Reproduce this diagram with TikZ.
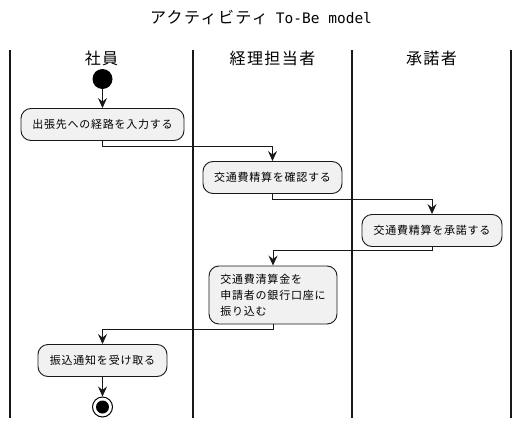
\documentclass[tikz,border=0pt]{standalone}
\usepackage{fontspec}
\setmainfont{Noto Sans CJK JP}
\newfontfamily\actfont[LetterSpace=7]{Noto Sans CJK JP}
\newfontfamily\headfont[LetterSpace=9]{Noto Sans CJK JP}
\newfontfamily\monofont{DejaVu Sans Mono}
\usepackage{tikz}
\usetikzlibrary{arrows.meta}
\definecolor{umlline}{HTML}{181818}
\definecolor{umlfill}{HTML}{F1F1F1}

\begin{document}
\begin{tikzpicture}[x=1pt,y=-1pt,
	act/.style={draw=umlline,fill=umlfill,line width=0.9pt,rounded corners=10pt,inner xsep=10pt,minimum height=32pt,font=\actfont\fontsize{11}{16}\selectfont},
	flow/.style={draw=umlline,line width=1pt,-{Stealth[length=10pt,width=9pt,inset=3.5pt]}},
	lane/.style={line width=1.5pt,umlline},
	lanehead/.style={font=\headfont\fontsize{16}{18}\selectfont}]
	\useasboundingbox (0,0) rectangle (522,428);
	\node (title) at (261,18) {{\headfont\fontsize{16}{18}\selectfont アクティビティ}\hspace{8pt}{\monofont\fontsize{14.5}{18}\selectfont To-Be model}};
	\foreach \x in {10,193,352,511}
		\draw[lane] (\x,50)--(\x,418);
	\node[lanehead] (staff) at (101.5,58) {社員};
	\node[lanehead] (clerk) at (272.5,58) {経理担当者};
	\node[lanehead] (approver) at (431.5,58) {承諾者};

	\node[circle,fill=black,minimum size=20pt,inner sep=0pt] (begin) at (102.5,79) {};
	\node[act,minimum width=163pt] (enter) at (102.5,124.5) {出張先への経路を入力する};
	\node[act,minimum width=139pt] (check) at (272.5,177.5) {交通費精算を確認する};
	\node[act,minimum width=140pt] (approve) at (432,230.5) {交通費精算を承諾する};
	\node[act,minimum width=128pt,minimum height=58pt,align=left] (pay) at (273,295) {交通費清算金を\\申請者の銀行口座に\\振り込む};
	\node[act,minimum width=129pt] (receive) at (102.5,360.5) {振込通知を受け取る};
	\node[circle,draw=black,fill=white,line width=1pt,minimum size=20pt,inner sep=0pt,
		path picture={\fill[black] (path picture bounding box.center) circle (6.5pt);}] (finish) at (102.5,407) {};

	\draw[flow] (begin)--(enter);
	\draw[flow] (enter.south)--++(0,6)-|(check.north);
	\draw[flow] (check.south)--++(0,6)-|(approve.north);
	\draw[flow] (approve.south)--++(0,4)-|(pay.north);
	\draw[flow] (pay.south)--++(0,5)-|(receive.north);
	\draw[flow] (receive)--(finish);
\end{tikzpicture}
\end{document}
